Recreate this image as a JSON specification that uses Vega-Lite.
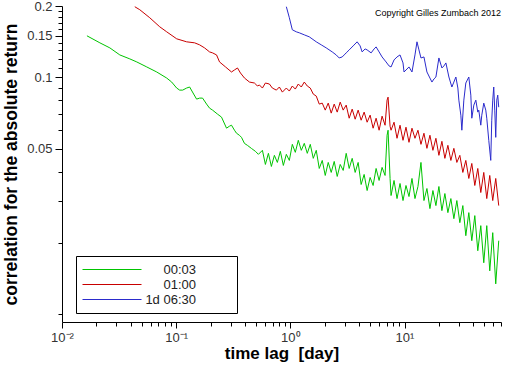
{
  "$schema": "https://vega.github.io/schema/vega-lite/v6.json",
  "width": 439,
  "height": 316,
  "autosize": {"type": "none"},
  "padding": {"left": 62, "top": 6, "right": 11, "bottom": 44},
  "background": "white",
  "config": {"view": {"stroke": null}, "font": "Liberation Sans"},
  "layer": [
    {
      "data": {"values": [
        {"lag":0.01654,"corr":0.1497,"series":"00:03"},{"lag":0.02147,"corr":0.1398,"series":"00:03"},{"lag":0.02626,"corr":0.1331,"series":"00:03"},{"lag":0.0321,"corr":0.1243,"series":"00:03"},{"lag":0.03925,"corr":0.1196,"series":"00:03"},{"lag":0.04518,"corr":0.1161,"series":"00:03"},{"lag":0.05525,"corr":0.1106,"series":"00:03"},{"lag":0.06756,"corr":0.1053,"series":"00:03"},{"lag":0.08261,"corr":0.0993,"series":"00:03"},{"lag":0.09134,"corr":0.0955,"series":"00:03"},{"lag":0.101,"corr":0.0901,"series":"00:03"},{"lag":0.1073,"corr":0.0883,"series":"00:03"},{"lag":0.114,"corr":0.0883,"series":"00:03"},{"lag":0.1235,"corr":0.0901,"series":"00:03"},{"lag":0.1312,"corr":0.091,"series":"00:03"},{"lag":0.1422,"corr":0.085,"series":"00:03"},{"lag":0.151,"corr":0.0809,"series":"00:03"},{"lag":0.1604,"corr":0.0817,"series":"00:03"},{"lag":0.1703,"corr":0.0817,"series":"00:03"},{"lag":0.1846,"corr":0.0771,"series":"00:03"},{"lag":0.1961,"corr":0.0741,"series":"00:03"},{"lag":0.2083,"corr":0.0727,"series":"00:03"},{"lag":0.2304,"corr":0.0699,"series":"00:03"},{"lag":0.2496,"corr":0.0679,"series":"00:03"},{"lag":0.2761,"corr":0.061,"series":"00:03"},{"lag":0.2932,"corr":0.0622,"series":"00:03"},{"lag":0.3052,"corr":0.0628,"series":"00:03"},{"lag":0.3241,"corr":0.0598,"series":"00:03"},{"lag":0.3374,"corr":0.0581,"series":"00:03"},{"lag":0.3584,"corr":0.0569,"series":"00:03"},{"lag":0.3733,"corr":0.0558,"series":"00:03"},{"lag":0.3965,"corr":0.0526,"series":"00:03"},{"lag":0.4211,"corr":0.0516,"series":"00:03"},{"lag":0.4562,"corr":0.0501,"series":"00:03"},{"lag":0.4946,"corr":0.0487,"series":"00:03"},{"lag":0.5253,"corr":0.0473,"series":"00:03"},
        {"lag":0.5693,"corr":0.04918,"series":"00:03"},{"lag":0.6047,"corr":0.04287,"series":"00:03"},{"lag":0.6423,"corr":0.04776,"series":"00:03"},{"lag":0.6823,"corr":0.04204,"series":"00:03"},{"lag":0.7247,"corr":0.04684,"series":"00:03"},{"lag":0.7698,"corr":0.04372,"series":"00:03"},{"lag":0.8176,"corr":0.0487,"series":"00:03"},{"lag":0.8685,"corr":0.04246,"series":"00:03"},{"lag":0.9225,"corr":0.0473,"series":"00:03"},{"lag":0.9799,"corr":0.04458,"series":"00:03"},{"lag":1.0408,"corr":0.05213,"series":"00:03"},{"lag":1.1056,"corr":0.04823,"series":"00:03"},{"lag":1.1743,"corr":0.05421,"series":"00:03"},{"lag":1.2474,"corr":0.04918,"series":"00:03"},{"lag":1.325,"corr":0.05264,"series":"00:03"},{"lag":1.4074,"corr":0.04776,"series":"00:03"},{"lag":1.4949,"corr":0.05213,"series":"00:03"},{"lag":1.5878,"corr":0.04549,"series":"00:03"},{"lag":1.6866,"corr":0.04918,"series":"00:03"},{"lag":1.7915,"corr":0.04123,"series":"00:03"},{"lag":1.9029,"corr":0.04458,"series":"00:03"},{"lag":2.0212,"corr":0.03852,"series":"00:03"},{"lag":2.1469,"corr":0.04372,"series":"00:03"},{"lag":2.2804,"corr":0.03967,"series":"00:03"},{"lag":2.4222,"corr":0.04415,"series":"00:03"},{"lag":2.5736,"corr":0.03815,"series":"00:03"},{"lag":2.7337,"corr":0.04287,"series":"00:03"},{"lag":2.9037,"corr":0.04045,"series":"00:03"},{"lag":3.0843,"corr":0.04776,"series":"00:03"},{"lag":3.2761,"corr":0.04123,"series":"00:03"},{"lag":3.4798,"corr":0.04549,"series":"00:03"},{"lag":3.6962,"corr":0.03967,"series":"00:03"},{"lag":3.9261,"corr":0.04372,"series":"00:03"},{"lag":4.1702,"corr":0.03528,"series":"00:03"},{"lag":4.4296,"corr":0.0389,"series":"00:03"},{"lag":4.705,"corr":0.03327,"series":"00:03"},{"lag":4.9976,"corr":0.03778,"series":"00:03"},{"lag":5.3084,"corr":0.03494,"series":"00:03"},{"lag":5.6385,"corr":0.04123,"series":"00:03"},{"lag":5.9892,"corr":0.03669,"series":"00:03"},{"lag":6.3616,"corr":0.04165,"series":"00:03"},{"lag":6.7572,"corr":0.03852,"series":"00:03"},{"lag":7.034,"corr":0.05694,"series":"00:03"},{"lag":7.1775,"corr":0.05979,"series":"00:03"},{"lag":7.472,"corr":0.03741,"series":"00:03"},{"lag":7.6238,"corr":0.03169,"series":"00:03"},{"lag":8.095,"corr":0.03669,"series":"00:03"},{"lag":8.598,"corr":0.03077,"series":"00:03"},{"lag":9.133,"corr":0.03563,"series":"00:03"},{"lag":9.701,"corr":0.03018,"series":"00:03"},{"lag":10.304,"corr":0.03494,"series":"00:03"},{"lag":10.945,"corr":0.03138,"series":"00:03"},{"lag":11.625,"corr":0.03741,"series":"00:03"},{"lag":12.348,"corr":0.03077,"series":"00:03"},{"lag":13.116,"corr":0.0346,"series":"00:03"},{"lag":13.932,"corr":0.04372,"series":"00:03"},{"lag":14.798,"corr":0.03018,"series":"00:03"},{"lag":15.718,"corr":0.03393,"series":"00:03"},{"lag":16.696,"corr":0.02791,"series":"00:03"},{"lag":17.734,"corr":0.03327,"series":"00:03"},{"lag":18.837,"corr":0.02874,"series":"00:03"},{"lag":20.008,"corr":0.0346,"series":"00:03"},{"lag":21.252,"corr":0.02737,"series":"00:03"},{"lag":22.574,"corr":0.03231,"series":"00:03"},{"lag":23.978,"corr":0.02684,"series":"00:03"},{"lag":25.469,"corr":0.03077,"series":"00:03"},{"lag":27.053,"corr":0.02531,"series":"00:03"},{"lag":28.735,"corr":0.03018,"series":"00:03"},{"lag":30.522,"corr":0.02435,"series":"00:03"},{"lag":32.42,"corr":0.02874,"series":"00:03"},{"lag":34.436,"corr":0.02145,"series":"00:03"},{"lag":36.578,"corr":0.02684,"series":"00:03"},{"lag":38.852,"corr":0.02043,"series":"00:03"},{"lag":41.268,"corr":0.02607,"series":"00:03"},{"lag":43.835,"corr":0.01853,"series":"00:03"},{"lag":46.561,"corr":0.02365,"series":"00:03"},{"lag":49.456,"corr":0.01649,"series":"00:03"},{"lag":52.532,"corr":0.02365,"series":"00:03"},{"lag":55.799,"corr":0.01524,"series":"00:03"},{"lag":59.269,"corr":0.02209,"series":"00:03"},{"lag":62.955,"corr":0.01343,"series":"00:03"},{"lag":66.87,"corr":0.02043,"series":"00:03"},
        {"lag":0.0434,"corr":0.1986,"series":"01:00"},{"lag":0.048,"corr":0.1929,"series":"01:00"},{"lag":0.0587,"corr":0.1784,"series":"01:00"},{"lag":0.07178,"corr":0.1634,"series":"01:00"},{"lag":0.08261,"corr":0.1556,"series":"01:00"},{"lag":0.101,"corr":0.1454,"series":"01:00"},{"lag":0.1235,"corr":0.1412,"series":"01:00"},{"lag":0.1451,"corr":0.1398,"series":"01:00"},{"lag":0.1604,"corr":0.1371,"series":"01:00"},{"lag":0.1773,"corr":0.1331,"series":"01:00"},{"lag":0.1961,"corr":0.128,"series":"01:00"},{"lag":0.2083,"corr":0.1268,"series":"01:00"},{"lag":0.2258,"corr":0.1243,"series":"01:00"},{"lag":0.2398,"corr":0.1161,"series":"01:00"},{"lag":0.2706,"corr":0.1106,"series":"01:00"},{"lag":0.3052,"corr":0.1053,"series":"01:00"},{"lag":0.3241,"corr":0.1074,"series":"01:00"},{"lag":0.3443,"corr":0.1095,"series":"01:00"},{"lag":0.3657,"corr":0.1043,"series":"01:00"},{"lag":0.3965,"corr":0.0993,"series":"01:00"},{"lag":0.4385,"corr":0.0955,"series":"01:00"},{"lag":0.4848,"corr":0.0946,"series":"01:00"},{"lag":0.5149,"corr":0.0919,"series":"01:00"},{"lag":0.536,"corr":0.0928,"series":"01:00"},{"lag":0.5693,"corr":0.0901,"series":"01:00"},{"lag":0.6047,"corr":0.0946,"series":"01:00"},{"lag":0.6553,"corr":0.0937,"series":"01:00"},{"lag":0.6955,"corr":0.0901,"series":"01:00"},{"lag":0.7546,"corr":0.0883,"series":"01:00"},{"lag":0.8014,"corr":0.091,"series":"01:00"},{"lag":0.8513,"corr":0.0866,"series":"01:00"},{"lag":0.9225,"corr":0.0901,"series":"01:00"},{"lag":0.9799,"corr":0.0875,"series":"01:00"},{"lag":1.0408,"corr":0.0919,"series":"01:00"},{"lag":1.1056,"corr":0.0892,"series":"01:00"},{"lag":1.1743,"corr":0.0937,"series":"01:00"},{"lag":1.2474,"corr":0.091,"series":"01:00"},{"lag":1.325,"corr":0.0955,"series":"01:00"},{"lag":1.4074,"corr":0.0919,"series":"01:00"},
        {"lag":1.4949,"corr":0.09008,"series":"01:00"},{"lag":1.5878,"corr":0.08495,"series":"01:00"},{"lag":1.6866,"corr":0.08332,"series":"01:00"},{"lag":1.7915,"corr":0.07708,"series":"01:00"},{"lag":1.9029,"corr":0.07781,"series":"01:00"},{"lag":2.0212,"corr":0.0727,"series":"01:00"},{"lag":2.1469,"corr":0.07781,"series":"01:00"},{"lag":2.2804,"corr":0.0706,"series":"01:00"},{"lag":2.4222,"corr":0.07708,"series":"01:00"},{"lag":2.5736,"corr":0.0713,"series":"01:00"},{"lag":2.7337,"corr":0.07858,"series":"01:00"},{"lag":2.9037,"corr":0.0727,"series":"01:00"},{"lag":3.0843,"corr":0.07633,"series":"01:00"},{"lag":3.2761,"corr":0.0672,"series":"01:00"},{"lag":3.4798,"corr":0.07341,"series":"01:00"},{"lag":3.6962,"corr":0.06655,"series":"01:00"},{"lag":3.9261,"corr":0.0727,"series":"01:00"},{"lag":4.1702,"corr":0.0659,"series":"01:00"},{"lag":4.4296,"corr":0.0713,"series":"01:00"},{"lag":4.705,"corr":0.06463,"series":"01:00"},{"lag":4.9976,"corr":0.06924,"series":"01:00"},{"lag":5.3084,"corr":0.06097,"series":"01:00"},{"lag":5.6385,"corr":0.0672,"series":"01:00"},{"lag":5.9892,"corr":0.05979,"series":"01:00"},{"lag":6.3616,"corr":0.06856,"series":"01:00"},{"lag":6.7572,"corr":0.06276,"series":"01:00"},{"lag":7.034,"corr":0.0801,"series":"01:00"},{"lag":7.1775,"corr":0.08248,"series":"01:00"},{"lag":7.472,"corr":0.06215,"series":"01:00"},{"lag":7.6238,"corr":0.05979,"series":"01:00"},{"lag":8.095,"corr":0.06463,"series":"01:00"},{"lag":8.598,"corr":0.05528,"series":"01:00"},{"lag":9.133,"corr":0.06276,"series":"01:00"},{"lag":9.701,"corr":0.05421,"series":"01:00"},{"lag":10.304,"corr":0.06157,"series":"01:00"},{"lag":10.945,"corr":0.05316,"series":"01:00"},{"lag":11.625,"corr":0.06097,"series":"01:00"},{"lag":12.348,"corr":0.05528,"series":"01:00"},{"lag":13.116,"corr":0.05979,"series":"01:00"},{"lag":13.932,"corr":0.05213,"series":"01:00"},{"lag":14.798,"corr":0.05806,"series":"01:00"},{"lag":15.718,"corr":0.05014,"series":"01:00"},{"lag":16.696,"corr":0.05694,"series":"01:00"},{"lag":17.734,"corr":0.04918,"series":"01:00"},{"lag":18.837,"corr":0.05528,"series":"01:00"},{"lag":20.008,"corr":0.04684,"series":"01:00"},{"lag":21.252,"corr":0.05368,"series":"01:00"},{"lag":22.574,"corr":0.04549,"series":"01:00"},{"lag":23.978,"corr":0.05163,"series":"01:00"},{"lag":25.469,"corr":0.04458,"series":"01:00"},{"lag":27.053,"corr":0.05014,"series":"01:00"},{"lag":28.735,"corr":0.04372,"series":"01:00"},{"lag":30.522,"corr":0.04684,"series":"01:00"},{"lag":32.42,"corr":0.03967,"series":"01:00"},{"lag":34.436,"corr":0.04458,"series":"01:00"},{"lag":36.578,"corr":0.03741,"series":"01:00"},{"lag":38.852,"corr":0.04329,"series":"01:00"},{"lag":41.268,"corr":0.03494,"series":"01:00"},{"lag":43.835,"corr":0.04123,"series":"01:00"},{"lag":46.561,"corr":0.03263,"series":"01:00"},{"lag":49.456,"corr":0.03967,"series":"01:00"},{"lag":52.532,"corr":0.03077,"series":"01:00"},{"lag":55.799,"corr":0.03852,"series":"01:00"},{"lag":59.269,"corr":0.03018,"series":"01:00"},{"lag":62.955,"corr":0.03741,"series":"01:00"},{"lag":66.87,"corr":0.02874,"series":"01:00"},
        {"lag":0.9227,"corr":0.1986,"series":"1d 06:30"},{"lag":0.9801,"corr":0.1784,"series":"1d 06:30"},{"lag":1.0408,"corr":0.1587,"series":"1d 06:30"},{"lag":1.1282,"corr":0.1556,"series":"1d 06:30"},{"lag":1.1983,"corr":0.1541,"series":"1d 06:30"},{"lag":1.325,"corr":0.1511,"series":"1d 06:30"},{"lag":1.4655,"corr":0.1482,"series":"1d 06:30"},{"lag":1.6866,"corr":0.1412,"series":"1d 06:30"},{"lag":1.8657,"corr":0.1371,"series":"1d 06:30"},{"lag":2.0627,"corr":0.1331,"series":"1d 06:30"},{"lag":2.3272,"corr":0.128,"series":"1d 06:30"},{"lag":2.5219,"corr":0.1243,"series":"1d 06:30"},{"lag":2.6785,"corr":0.1207,"series":"1d 06:30"},{"lag":2.8455,"corr":0.1219,"series":"1d 06:30"},{"lag":2.9627,"corr":0.1243,"series":"1d 06:30"},{"lag":3.0843,"corr":0.1268,"series":"1d 06:30"},{"lag":3.2761,"corr":0.1305,"series":"1d 06:30"},{"lag":3.5502,"corr":0.1357,"series":"1d 06:30"},{"lag":3.8475,"corr":0.1412,"series":"1d 06:30"},{"lag":4.0869,"corr":0.1357,"series":"1d 06:30"},{"lag":4.2546,"corr":0.128,"series":"1d 06:30"},{"lag":4.5191,"corr":0.1318,"series":"1d 06:30"},{"lag":4.705,"corr":0.1305,"series":"1d 06:30"},{"lag":5.1007,"corr":0.1268,"series":"1d 06:30"},{"lag":5.4184,"corr":0.1318,"series":"1d 06:30"},{"lag":5.6385,"corr":0.1344,"series":"1d 06:30"},{"lag":5.9892,"corr":0.128,"series":"1d 06:30"},{"lag":6.3616,"corr":0.1219,"series":"1d 06:30"},{"lag":6.8937,"corr":0.1161,"series":"1d 06:30"},{"lag":7.322,"corr":0.1117,"series":"1d 06:30"},{"lag":7.6238,"corr":0.1106,"series":"1d 06:30"},{"lag":8.095,"corr":0.1184,"series":"1d 06:30"},{"lag":8.598,"corr":0.1219,"series":"1d 06:30"},{"lag":9.134,"corr":0.1243,"series":"1d 06:30"},{"lag":9.701,"corr":0.115,"series":"1d 06:30"},{"lag":9.9,"corr":0.1053,"series":"1d 06:30"},{"lag":10.516,"corr":0.1084,"series":"1d 06:30"},{"lag":10.945,"corr":0.1106,"series":"1d 06:30"},{"lag":11.625,"corr":0.1053,"series":"1d 06:30"},{"lag":12.348,"corr":0.1243,"series":"1d 06:30"},{"lag":12.856,"corr":0.1412,"series":"1d 06:30"},{"lag":13.384,"corr":0.1305,"series":"1d 06:30"},{"lag":13.932,"corr":0.1207,"series":"1d 06:30"},{"lag":14.798,"corr":0.1219,"series":"1d 06:30"},{"lag":15.718,"corr":0.1053,"series":"1d 06:30"},{"lag":16.696,"corr":0.0993,"series":"1d 06:30"},{"lag":17.386,"corr":0.0955,"series":"1d 06:30"},{"lag":18.098,"corr":0.0984,"series":"1d 06:30"},{"lag":18.837,"corr":0.1003,"series":"1d 06:30"},{"lag":20.008,"corr":0.1207,"series":"1d 06:30"},{"lag":21.252,"corr":0.1095,"series":"1d 06:30"},{"lag":22.135,"corr":0.1117,"series":"1d 06:30"},{"lag":23.043,"corr":0.115,"series":"1d 06:30"},{"lag":24.474,"corr":0.1003,"series":"1d 06:30"},{"lag":25.99,"corr":0.091,"series":"1d 06:30"},{"lag":27.053,"corr":0.0955,"series":"1d 06:30"},{"lag":28.17,"corr":0.1003,"series":"1d 06:30"},{"lag":29.33,"corr":0.0901,"series":"1d 06:30"},{"lag":29.92,"corr":0.0801,"series":"1d 06:30"},{"lag":31.15,"corr":0.0692,"series":"1d 06:30"},{"lag":31.78,"corr":0.0598,"series":"1d 06:30"},{"lag":33.08,"corr":0.0801,"series":"1d 06:30"},{"lag":34.436,"corr":0.0946,"series":"1d 06:30"},{"lag":36.578,"corr":0.1003,"series":"1d 06:30"},{"lag":38.08,"corr":0.0841,"series":"1d 06:30"},{"lag":38.852,"corr":0.0672,"series":"1d 06:30"},{"lag":40.46,"corr":0.0763,"series":"1d 06:30"},{"lag":42.12,"corr":0.0801,"series":"1d 06:30"},{"lag":43.835,"corr":0.0713,"series":"1d 06:30"},{"lag":44.73,"corr":0.0727,"series":"1d 06:30"},{"lag":46.561,"corr":0.0628,"series":"1d 06:30"},{"lag":47.52,"corr":0.0692,"series":"1d 06:30"},{"lag":49.456,"corr":0.0778,"series":"1d 06:30"},{"lag":51.49,"corr":0.0727,"series":"1d 06:30"},{"lag":52.532,"corr":0.0672,"series":"1d 06:30"},{"lag":54.7,"corr":0.0542,"series":"1d 06:30"},{"lag":56.94,"corr":0.0446,"series":"1d 06:30"},{"lag":58.1,"corr":0.0659,"series":"1d 06:30"},{"lag":59.269,"corr":0.0801,"series":"1d 06:30"},{"lag":60.47,"corr":0.091,"series":"1d 06:30"},{"lag":61.71,"corr":0.0727,"series":"1d 06:30"},{"lag":62.955,"corr":0.0558,"series":"1d 06:30"},{"lag":64.25,"corr":0.0801,"series":"1d 06:30"},{"lag":65.55,"corr":0.0841,"series":"1d 06:30"},{"lag":66.87,"corr":0.0748,"series":"1d 06:30"}
      ]},
      "mark": {"type": "line", "strokeWidth": 1, "clip": true},
      "encoding": {
        "x": {
          "field": "lag", "type": "quantitative",
          "scale": {"type": "log", "domain": [0.01, 70], "nice": false},
          "axis": {
            "title": "time lag\u00a0 [day]",
            "values": [0.01,0.02,0.03,0.04,0.05,0.06,0.07,0.08,0.09,0.1,0.2,0.3,0.4,0.5,0.6,0.7,0.8,0.9,1,2,3,4,5,6,7,8,9,10,20,30,40,50,60,70],
            "labelExpr": "datum.value == 0.01 ? '10\u207b\u00b2' : datum.value == 0.1 ? '10\u207b\u00b9' : datum.value == 1 ? '10\u2070' : datum.value == 10 ? '10\u00b9' : ''",
            "tickSize": {"condition": {"test": "datum.value == 0.01 || datum.value == 0.1 || datum.value == 1 || datum.value == 10", "value": 6}, "value": 4},
            "grid": false, "domainColor": "black", "tickColor": "black",
            "labelColor": "#333333", "labelFontSize": 13, "labelFont": "Liberation Sans",
            "labelPadding": 3, "labelFlush": false, "labelOverlap": false, "labelBound": false,
            "titleFont": "Liberation Sans", "titleFontSize": 17, "titleFontWeight": "bold",
            "titleColor": "black", "titlePadding": 1
          }
        },
        "y": {
          "field": "corr", "type": "quantitative",
          "scale": {"type": "log", "domain": [0.00927, 0.2], "nice": false},
          "axis": {
            "title": "correlation for the absolute return",
            "values": [0.01,0.02,0.03,0.04,0.05,0.06,0.07,0.08,0.09,0.1,0.11,0.12,0.13,0.14,0.15,0.16,0.17,0.18,0.19,0.2],
            "labelExpr": "datum.value == 0.2 ? '0.2' : datum.value == 0.15 ? '0.15' : datum.value == 0.1 ? '0.1' : datum.value == 0.05 ? '0.05' : ''",
            "tickSize": {"condition": {"test": "datum.value == 0.2 || datum.value == 0.15 || datum.value == 0.1 || datum.value == 0.05", "value": 7}, "value": 4},
            "grid": false, "domainColor": "black", "tickColor": "black",
            "labelColor": "#333333", "labelFontSize": 13, "labelFont": "Liberation Sans",
            "labelPadding": 3, "labelFlush": false, "labelOverlap": false, "labelBound": false,
            "titleFont": "Liberation Sans", "titleFontSize": 17.5, "titleFontWeight": "bold",
            "titleColor": "black", "titlePadding": 6
          }
        },
        "color": {
          "field": "series", "type": "nominal",
          "scale": {"domain": ["00:03", "01:00", "1d 06:30"], "range": ["#00c400", "#c80000", "#2b2bcc"]},
          "legend": {
            "orient": "none", "legendX": 14, "legendY": 250,
            "title": null,
            "padding": 6, "strokeColor": "black", "fillColor": "white",
            "symbolType": "M-1,0H7.43M19.8,0", "symbolSize": 196, "symbolStrokeWidth": 1,
            "labelFont": "Liberation Sans", "labelFontSize": 13, "labelColor": "#222222",
            "labelAlign": "right", "labelOffset": 99, "rowPadding": 0
          }
        }
      }
    },
    {
      "data": {"values": [{}]},
      "mark": {"type": "text", "align": "right", "baseline": "middle", "fontSize": 9, "font": "Liberation Sans", "color": "black"},
      "encoding": {
        "x": {"datum": 70, "type": "quantitative"},
        "y": {"datum": 0.187, "type": "quantitative"},
        "text": {"value": "Copyright Gilles Zumbach 2012"}
      }
    }
  ]
}
